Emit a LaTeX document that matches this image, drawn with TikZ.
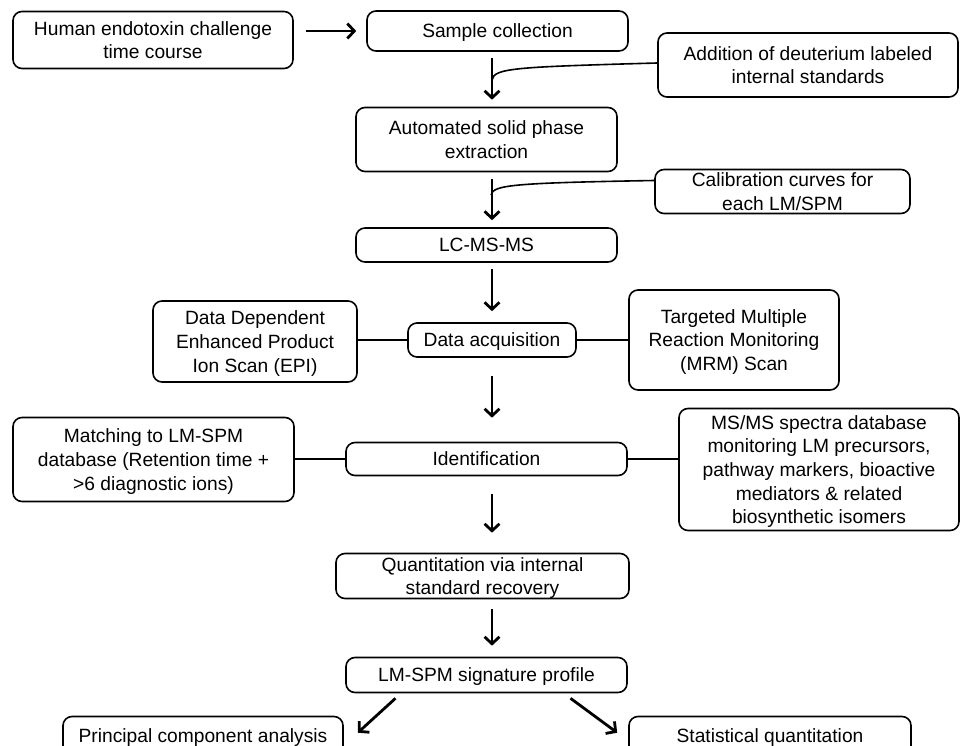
\documentclass[tikz,border=0pt]{standalone}
\usepackage{fontspec}
\setmainfont{Liberation Sans}
\usetikzlibrary{arrows.meta}
\begin{document}
\begin{tikzpicture}[x=1pt,y=-1pt,
  box/.style={draw, line width=1.6pt, rounded corners=9pt, align=center, inner sep=0pt,
    text depth=0pt, font=\fontsize{19.2}{23.7}\selectfont},
  arr/.style={line width=2.8pt, -{Straight Barb[length=7pt,width=15pt]}},
  link/.style={line width=2.2pt},
  feed/.style={line width=1.6pt}]
\fill[white] (0,0) rectangle (961,746);
\useasboundingbox (0,0) rectangle (961,746);
\clip (0,0) rectangle (961,746);

\node[box, minimum width=280pt, minimum height=57pt] (hum) at (153,40) {Human endotoxin challenge\\time course};
\node[box, minimum width=261pt, minimum height=40pt] (samp) at (497.5,31) {Sample collection};
\node[box, minimum width=300pt, minimum height=64pt] (add) at (808,65) {Addition of deuterium labeled\\internal standards};
\node[box, minimum width=261pt, minimum height=64pt] (spe) at (486.5,139.5) {Automated solid phase\\extraction};
\node[box, minimum width=255pt, minimum height=44pt] (cal) at (782.5,191.5) {Calibration curves for\\each LM/SPM};
\node[box, minimum width=261pt, minimum height=34pt] (lc) at (486.5,245) {LC-MS-MS};
\node[box, minimum width=204pt, minimum height=81pt] (dd) at (255,341.5) {Data Dependent\\Enhanced Product\\Ion Scan (EPI)};
\node[box, minimum width=168pt, minimum height=34pt] (da) at (492,340) {Data acquisition};
\node[box, minimum width=210pt, minimum height=100pt] (mrm) at (734,340) {Targeted Multiple\\Reaction Monitoring\\(MRM) Scan};
\node[box, minimum width=281pt, minimum height=84pt] (mat) at (153.5,459.5) {Matching to LM-SPM\\database (Retention time +\\>6 diagnostic ions)};
\node[box, minimum width=281pt, minimum height=33pt] (id) at (486.5,459) {Identification};
\node[box, minimum width=280pt, minimum height=122pt] (ms) at (819,469.5) {MS/MS spectra database\\monitoring LM precursors,\\pathway markers, bioactive\\mediators \& related\\biosynthetic isomers};
\node[box, minimum width=293pt, minimum height=45pt] (quant) at (482.5,576) {Quantitation via internal\\standard recovery};
\node[box, minimum width=281pt, minimum height=35pt] (lmspm) at (486.5,675) {LM-SPM signature profile};
\node[box, minimum width=280pt, minimum height=38pt] (pca) at (203,735.5) {Principal component analysis};
\node[box, minimum width=282pt, minimum height=38pt] (stat) at (770,735.5) {Statistical quantitation};

\coordinate (ax) at (492,0);
\coordinate (j1) at (492,80);
\coordinate (j2) at (491,195);

% main flow
\draw[arr, shorten <=12pt, shorten >=10pt] (hum.east |- samp.west) -- (samp.west);
\draw[arr, shorten <=6pt, shorten >=7pt] (samp.south -| ax) -- (spe.north -| ax);
\draw[arr, shorten <=7pt, shorten >=7pt] (spe.south -| ax) -- (lc.north -| ax);
\draw[arr, shorten <=6pt, shorten >=11pt] (lc.south -| ax) -- (da.north -| ax);
\draw[arr, shorten <=18pt, shorten >=24pt] (da.south -| ax) -- (id.north -| ax);
\draw[arr, shorten <=18pt, shorten >=20pt] (id.south -| ax) -- (quant.north -| ax);
\draw[arr, shorten <=10pt, shorten >=11pt] (quant.south -| ax) -- (lmspm.north -| ax);
\draw[arr] ([shift={(-91,5)}]lmspm.south) -- ([shift={(14,17)}]pca.north east);
\draw[arr] ([shift={(84,5)}]lmspm.south) -- ([shift={(-11,17)}]stat.north west);

% side links
\draw[link] (da.west -| dd.east) -- (da.west);
\draw[link] (da.east) -- (da.east -| mrm.west);
\draw[link] (id.west -| mat.east) -- (id.west);
\draw[link] (id.east) -- (id.east -| ms.west);

% feeds
\draw[feed] ([yshift=2pt]add.west) .. controls (515,67) and (494,68) .. (j1);
\draw[feed] ([yshift=11pt]cal.west) .. controls (512,183) and (493,185) .. (j2);
\end{tikzpicture}
\end{document}
